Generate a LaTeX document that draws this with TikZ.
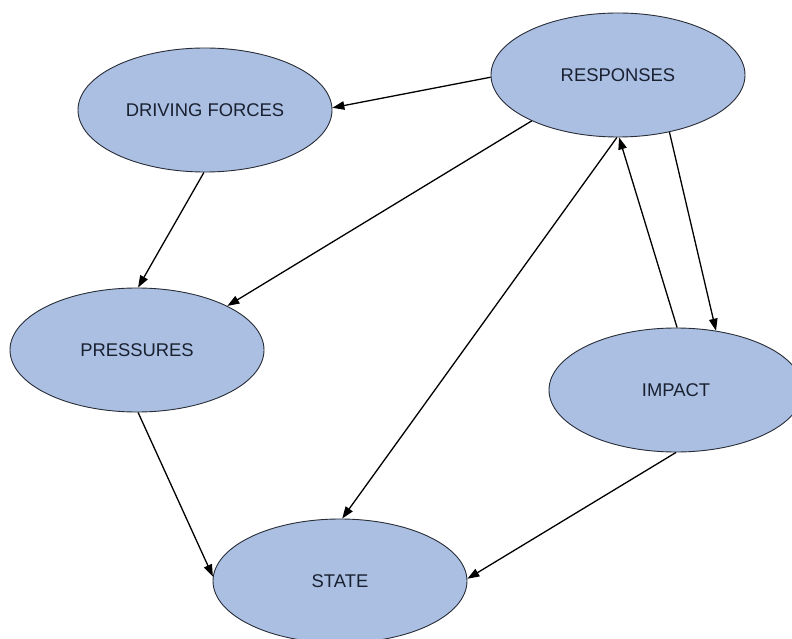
\documentclass[tikz,border=0pt]{standalone}
\usepackage{fontspec}
\setmainfont{Liberation Sans}
\usetikzlibrary{arrows.meta,shapes.geometric}
\definecolor{ellfill}{RGB}{170,191,226}
\definecolor{ellline}{RGB}{40,45,55}
\definecolor{txt}{RGB}{25,32,48}
\begin{document}
\begin{tikzpicture}[x=1pt,y=1pt,
  blob/.style={ellipse,draw=ellline,line width=0.9pt,fill=ellfill,minimum width=254pt,minimum height=124pt,inner sep=0pt,text=txt,font=\fontsize{18.4}{20}\selectfont},
  conn/.style={line width=1.3pt,-{Triangle[length=12pt,width=8.5pt]}}]
\useasboundingbox (0,0) rectangle (792,638);
\fill[white] (0,0) rectangle (792,638);
\node[blob] (df) at (205,528) {DRIVING FORCES};
\node[blob] (resp) at (618,563) {RESPONSES};
\node[blob] (press) at (137,288) {PRESSURES};
\node[blob] (imp) at (676,248) {IMPACT};
\node[blob] (state) at (340,57) {STATE};
\draw[conn] (resp.181) -- (df.1);
\draw[conn] (resp.208) -- (press.26);
\draw[conn] (df.269) -- (press.89);
\draw[conn] (resp.269) -- (state.88);
\draw[conn] (imp.89) -- (resp.271);
\draw[conn] (resp.312) -- (imp.56);
\draw[conn] (press.271) -- (state.178.6);
\draw[conn] (imp.270) -- (state.1.4);
\end{tikzpicture}
\end{document}
